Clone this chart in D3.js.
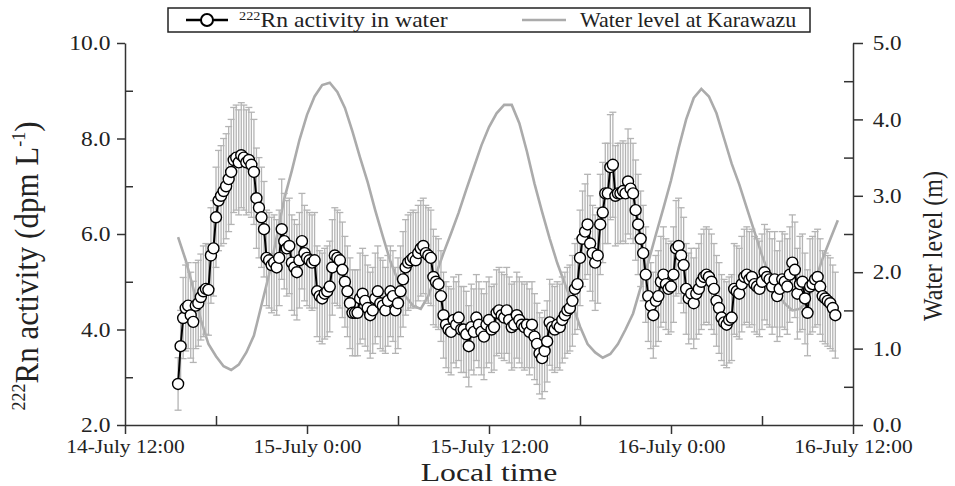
<!DOCTYPE html>
<html>
<head>
<meta charset="utf-8">
<script src="https://cdn.jsdelivr.net/npm/d3@7/dist/d3.min.js"></script>
<style>
  body { margin: 0; background: #fff; }
  text { font-family: "Liberation Serif", "Times New Roman", serif; fill: #222; }
</style>
</head>
<body>
<script>
// 222Rn activity in water (dpm/L), one reading every 10 min from 14 July 15:30
const rnValues = [
  2.86, 3.65, 4.24,
  4.45, 4.5, 4.3, 4.16, 4.5, 4.55,
  4.68, 4.8, 4.85, 4.83, 5.55, 5.7,
  6.35, 6.7, 6.8, 6.9, 7.0, 7.15,
  7.3, 7.55, 7.6, 7.5, 7.65, 7.6,
  7.5, 7.55, 7.45, 7.3, 6.75, 6.55,
  6.35, 6.1, 5.5, 5.45, 5.35, 5.4,
  5.3, 5.5, 6.1, 5.85, 5.7, 5.75,
  5.4, 5.3, 5.2, 5.45, 5.85, 5.6,
  5.5, 5.45, 5.4, 5.45, 4.8, 4.7,
  4.65, 4.75, 4.8, 4.9, 5.3, 5.55,
  5.5, 5.45, 5.25, 5.0, 4.8, 4.55,
  4.35, 4.35, 4.35, 4.65, 4.75, 4.6,
  4.45, 4.3, 4.4, 4.65, 4.8, 4.55,
  4.5, 4.4, 4.6, 4.8, 4.7, 4.4,
  4.55, 4.8, 5.05, 5.3, 5.4, 5.45,
  5.5, 5.45, 5.6, 5.7, 5.75, 5.6,
  5.55, 5.5, 5.1, 5.0, 4.95, 4.7,
  4.3, 4.1, 4.0, 3.95, 4.2, 4.1,
  4.25, 4.0, 4.0, 3.9, 3.65, 4.05,
  3.95, 4.25, 4.1, 3.95, 3.85, 4.1,
  4.2, 4.0, 4.05, 4.35, 4.4, 4.3,
  4.25, 4.4, 4.2, 4.05, 4.1, 4.3,
  4.2, 4.1, 4.05, 4.1, 3.95, 4.1,
  3.85, 3.7, 3.5, 3.4, 3.55, 3.75,
  4.15, 4.05, 4.0, 4.1, 4.05, 4.2,
  4.3, 4.4, 4.45, 4.6, 4.85, 4.95,
  5.5, 5.9, 6.05, 6.2, 5.8, 5.6,
  5.4, 5.55, 6.2, 6.45, 6.85, 6.85,
  7.4, 7.45, 6.8, 6.85, 6.85, 6.9,
  6.85, 7.1, 6.95, 6.85, 6.5, 6.2,
  5.9, 5.6, 5.15, 4.7, 4.5, 4.3,
  4.6, 4.7, 5.0, 5.15, 4.95, 4.85,
  4.9, 5.15, 5.7, 5.75, 5.55, 5.35,
  4.85, 4.65, 4.75, 4.55, 4.75, 4.85,
  5.0, 5.1, 5.15, 5.1, 5.0, 4.85,
  4.6, 4.45, 4.25, 4.15, 4.1, 4.2,
  4.25, 4.85, 4.8, 4.75, 4.95, 5.1,
  5.15, 5.05, 5.1, 4.95, 4.9, 4.85,
  5.0, 5.2, 5.1, 5.05, 4.9, 5.05,
  4.7, 4.85, 5.05, 5.0, 4.9, 5.15,
  5.4, 5.25, 4.75, 4.95, 5.0, 4.65,
  4.35, 4.9, 4.95, 5.05, 5.1, 4.9,
  4.7, 4.65, 4.6, 4.55, 4.45, 4.3
];

// +/- uncertainty of each reading
const rnErrors = [
  0.55, 0.75, 0.85,
  0.9, 0.9, 0.9, 0.85, 0.9, 0.9,
  0.9, 0.95, 0.95, 0.95, 1.0, 1.0,
  1.05, 1.05, 1.05, 1.1, 1.1, 1.1,
  1.1, 1.1, 1.1, 1.1, 1.1, 1.1,
  1.1, 1.1, 1.1, 1.1, 1.05, 1.05,
  1.05, 1.0, 1.0, 1.0, 1.0, 1.0,
  1.0, 1.0, 1.05, 1.0, 1.0, 1.0,
  1.0, 1.0, 1.0, 1.0, 1.0, 1.0,
  1.0, 1.0, 1.0, 1.0, 0.95, 0.95,
  0.95, 0.95, 0.95, 0.95, 1.0, 1.0,
  1.0, 1.0, 1.0, 0.95, 0.95, 0.95,
  0.9, 0.9, 0.9, 0.95, 0.95, 0.95,
  0.9, 0.9, 0.9, 0.95, 0.95, 0.95,
  0.95, 0.9, 0.95, 0.95, 0.95, 0.9,
  0.95, 0.95, 1.0, 1.0, 1.0, 1.0,
  1.0, 1.0, 1.0, 1.0, 1.0, 1.0,
  1.0, 1.0, 1.0, 0.95, 0.95, 0.95,
  0.9, 0.9, 0.9, 0.9, 0.9, 0.9,
  0.9, 0.9, 0.9, 0.9, 0.85, 0.9,
  0.9, 0.9, 0.9, 0.9, 0.9, 0.9,
  0.9, 0.9, 0.9, 0.9, 0.9, 0.9,
  0.9, 0.9, 0.9, 0.9, 0.9, 0.9,
  0.9, 0.9, 0.9, 0.9, 0.9, 0.9,
  0.9, 0.85, 0.85, 0.85, 0.85, 0.85,
  0.9, 0.9, 0.9, 0.9, 0.9, 0.9,
  0.9, 0.9, 0.9, 0.95, 0.95, 0.95,
  1.0, 1.0, 1.0, 1.05, 1.0, 1.0,
  1.0, 1.0, 1.05, 1.05, 1.05, 1.05,
  1.1, 1.1, 1.05, 1.05, 1.05, 1.05,
  1.05, 1.1, 1.05, 1.05, 1.05, 1.05,
  1.0, 1.0, 1.0, 0.95, 0.9, 0.9,
  0.95, 0.95, 0.95, 1.0, 0.95, 0.95,
  0.95, 1.0, 1.0, 1.0, 1.0, 1.0,
  0.95, 0.95, 0.95, 0.95, 0.95, 0.95,
  1.0, 1.0, 1.0, 1.0, 1.0, 0.95,
  0.95, 0.95, 0.9, 0.9, 0.9, 0.9,
  0.9, 0.95, 0.95, 0.95, 1.0, 1.0,
  1.0, 1.0, 1.0, 1.0, 1.0, 1.0,
  1.0, 1.0, 1.0, 1.0, 1.0, 1.0,
  0.95, 1.0, 1.0, 1.0, 1.0, 1.0,
  1.0, 1.0, 0.95, 1.0, 1.0, 0.95,
  0.9, 1.0, 1.0, 1.0, 1.0, 1.0,
  0.95, 0.95, 0.95, 0.95, 0.9, 0.9
];

// water level at Karawazu (m), every 30 min from 14 July 15:30
const levelValues = [
  2.46, 2.16, 1.79, 1.38, 1.06, 0.90, 0.77, 0.72, 0.79, 0.95,
  1.17, 1.57, 1.97, 2.46, 2.96, 3.33, 3.73, 4.06, 4.30, 4.45,
  4.48, 4.36, 4.15, 3.84, 3.50, 3.18, 2.81, 2.47, 2.14, 1.89,
  1.68, 1.56, 1.52, 1.69, 1.97, 2.25, 2.51, 2.78, 3.08, 3.37,
  3.66, 3.90, 4.08, 4.19, 4.19, 3.95, 3.58, 3.16, 2.79, 2.44,
  2.12, 1.85, 1.58, 1.29, 1.06, 0.95, 0.88, 0.93, 1.06, 1.25,
  1.46, 1.80, 2.13, 2.49, 2.84, 3.20, 3.62, 4.00, 4.28, 4.40,
  4.30, 4.08, 3.75, 3.42, 3.15, 2.84, 2.53, 2.22, 1.95, 1.72,
  1.59, 1.50, 1.52, 1.63, 1.89, 2.18, 2.43, 2.68
];

const seriesStart = new Date(2013, 6, 14, 15, 30);
const rnStepMin = 10;
const levelStepMin = 30;

const xTickTimes = [
  new Date(2013, 6, 14, 12), new Date(2013, 6, 15, 0), new Date(2013, 6, 15, 12),
  new Date(2013, 6, 16, 0), new Date(2013, 6, 16, 12)
];
const xTickLabels = ["14-July 12:00", "15-July 0:00", "15-July 12:00", "16-July 0:00", "16-July 12:00"];
const xMinorTimes = [
  new Date(2013, 6, 14, 18), new Date(2013, 6, 15, 6),
  new Date(2013, 6, 15, 18), new Date(2013, 6, 16, 6)
];
const leftTicks = [2, 4, 6, 8, 10];
const leftMinor = [3, 5, 7, 9];
const rightTicks = [0, 1, 2, 3, 4, 5];
const rightMinor = [0.5, 1.5, 2.5, 3.5, 4.5];

// layout
const W = 955, H = 486;
const plot = { left: 125, right: 853, top: 43, bottom: 425 };
const sx = 1.1; // the picture is a bit wide, stretch the lettering to match

const svg = d3.select("body").append("svg").attr("width", W).attr("height", H);

const x = d3.scaleTime().domain([xTickTimes[0], xTickTimes[4]]).range([plot.left, plot.right]);
const yL = d3.scaleLinear().domain([2, 10]).range([plot.bottom, plot.top]);
const yR = d3.scaleLinear().domain([0, 5]).range([plot.bottom, plot.top]);

const rn = rnValues.map((v, i) => ({
  t: d3.timeMinute.offset(seriesStart, i * rnStepMin), v: v, e: rnErrors[i]
}));
const level = levelValues.map((v, i) => ({
  t: d3.timeMinute.offset(seriesStart, i * levelStepMin), v: v
}));

// water level curve
svg.append("path")
  .datum(level)
  .attr("fill", "none")
  .attr("stroke", "#ababab")
  .attr("stroke-width", 2.6)
  .attr("d", d3.line().x(d => x(d.t)).y(d => yR(d.v)));

// error bars
const eb = svg.append("g").attr("stroke", "#b4b4b4").attr("stroke-width", 1.3);
rn.forEach(d => {
  const cx = x(d.t);
  const y1 = yL(d.v - d.e), y2 = yL(d.v + d.e);
  eb.append("line").attr("x1", cx).attr("x2", cx).attr("y1", y1).attr("y2", y2);
  eb.append("line").attr("x1", cx - 3.5).attr("x2", cx + 3.5).attr("y1", y1).attr("y2", y1);
  eb.append("line").attr("x1", cx - 3.5).attr("x2", cx + 3.5).attr("y1", y2).attr("y2", y2);
});

// Rn line + circles
svg.append("path")
  .datum(rn)
  .attr("fill", "none")
  .attr("stroke", "#000")
  .attr("stroke-width", 2)
  .attr("d", d3.line().x(d => x(d.t)).y(d => yL(d.v)));

svg.append("g").selectAll("circle")
  .data(rn)
  .enter().append("circle")
  .attr("cx", d => x(d.t))
  .attr("cy", d => yL(d.v))
  .attr("r", 5.5)
  .attr("fill", "#fff")
  .attr("stroke", "#000")
  .attr("stroke-width", 1.4);

// axes
function styleAxis(size, stretch) {
  return g => {
    g.attr("font-family", null);
    g.selectAll("path, line").attr("stroke", "#333").attr("stroke-width", 1.5);
    g.selectAll("text")
      .attr("fill", "#222")
      .style("font-family", '"Liberation Serif", "Times New Roman", serif')
      .style("font-size", size + "px")
      .attr("transform", `scale(${stretch},1)`);
  };
}

const fmt = d3.format(".1f");

svg.append("g")
  .attr("transform", `translate(${plot.left},0)`)
  .call(d3.axisLeft(yL).tickValues(leftTicks).tickFormat(fmt).tickSize(8).tickSizeOuter(0).tickPadding(5))
  .call(styleAxis(21, 1.12));
svg.append("g")
  .attr("transform", `translate(${plot.left},0)`)
  .call(d3.axisRight(yL).tickValues(leftMinor).tickFormat("").tickSize(8).tickSizeOuter(0))
  .call(g => g.select(".domain").remove())
  .call(styleAxis(21, 1));

svg.append("g")
  .attr("transform", `translate(${plot.right},0)`)
  .call(d3.axisRight(yR).tickValues(rightTicks).tickFormat(fmt).tickSize(10).tickSizeOuter(0).tickPadding(8))
  .call(styleAxis(21, 1.1));
svg.append("g")
  .attr("transform", `translate(${plot.right},0)`)
  .call(d3.axisLeft(yR).tickValues(rightMinor).tickFormat("").tickSize(9).tickSizeOuter(0))
  .call(g => g.select(".domain").remove())
  .call(styleAxis(21, 1));

svg.append("g")
  .attr("transform", `translate(0,${plot.bottom})`)
  .call(d3.axisBottom(x).tickValues(xTickTimes).tickFormat((d, i) => xTickLabels[i]).tickSize(9).tickSizeOuter(0).tickPadding(5))
  .call(styleAxis(19.5, 1.1));
svg.append("g")
  .attr("transform", `translate(0,${plot.bottom})`)
  .call(d3.axisTop(x).tickValues(xMinorTimes).tickFormat("").tickSize(9).tickSizeOuter(0))
  .call(g => g.select(".domain").remove())
  .call(styleAxis(21, 1));

// axis titles
svg.append("text")
  .attr("transform", "translate(489,480.5) scale(1.22,1)")
  .attr("text-anchor", "middle")
  .style("font-size", "26px")
  .text("Local time");

const lt = svg.append("text")
  .attr("transform", `translate(38,266) scale(${sx},1) rotate(-90)`)
  .attr("text-anchor", "middle")
  .style("font-size", "31px");
lt.append("tspan").style("font-size", "18px").attr("dy", -12).text("222");
lt.append("tspan").attr("dy", 12).text("Rn activity (dpm L");
lt.append("tspan").style("font-size", "18px").attr("dy", -12).text("-1");
lt.append("tspan").attr("dy", 12).text(")");

svg.append("text")
  .attr("transform", `translate(942,246) scale(${sx},1) rotate(-90)`)
  .attr("text-anchor", "middle")
  .style("font-size", "24px")
  .text("Water level (m)");

// legend
const lg = svg.append("g");
lg.append("rect")
  .attr("x", 168).attr("y", 8).attr("width", 642).attr("height", 24)
  .attr("fill", "#fff").attr("stroke", "#222").attr("stroke-width", 1.5);
lg.append("line").attr("x1", 186).attr("x2", 228).attr("y1", 20).attr("y2", 20)
  .attr("stroke", "#000").attr("stroke-width", 2.5);
lg.append("circle").attr("cx", 207).attr("cy", 20).attr("r", 6)
  .attr("fill", "#fff").attr("stroke", "#000").attr("stroke-width", 2);
const lt1 = lg.append("text").attr("transform", `translate(239,27) scale(${sx},1)`).style("font-size", "21.5px");
lt1.append("tspan").style("font-size", "13px").attr("dy", -7).text("222");
lt1.append("tspan").attr("dy", 7).text("Rn activity in water");
lg.append("line").attr("x1", 522).attr("x2", 566).attr("y1", 20).attr("y2", 20)
  .attr("stroke", "#ababab").attr("stroke-width", 2.6);
lg.append("text").attr("transform", `translate(580,27) scale(${sx},1)`).style("font-size", "20px")
  .text("Water level at Karawazu");
</script>
</body>
</html>
